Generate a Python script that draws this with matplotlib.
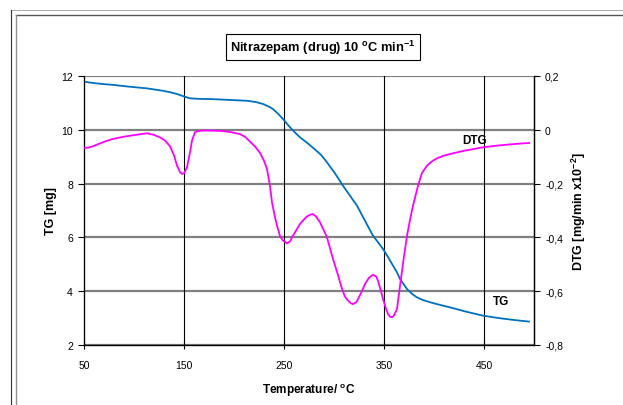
import matplotlib
matplotlib.use("Agg")
import matplotlib.pyplot as plt
from matplotlib.lines import Line2D

plt.rcParams['font.family'] = ['Liberation Sans', 'DejaVu Sans']
plt.rcParams['mathtext.fontset'] = 'custom'
plt.rcParams['mathtext.rm'] = 'Liberation Sans'
plt.rcParams['mathtext.bf'] = 'Liberation Sans:bold'
plt.rcParams['mathtext.default'] = 'bf'

# TG curve: temperature (°C) vs mass (mg)
tg_temp = [50, 59, 69, 79, 96, 113, 129, 137, 143, 150, 156, 165, 179, 195, 213,
           222, 229, 235, 239, 244, 249, 254, 259, 266, 273, 280, 287, 293, 301,
           309, 316, 323, 331, 339, 344, 349, 354, 359, 363, 366, 370, 373, 378,
           383, 389, 396, 405, 416, 432, 449, 465, 480, 495]
tg_mass = [11.79, 11.74, 11.70, 11.67, 11.60, 11.54, 11.45, 11.39, 11.33, 11.24,
           11.17, 11.15, 11.14, 11.11, 11.08, 11.03, 10.96, 10.86, 10.77, 10.60,
           10.40, 10.18, 9.97, 9.72, 9.52, 9.30, 9.07, 8.79, 8.38, 7.92, 7.55,
           7.18, 6.62, 6.06, 5.82, 5.57, 5.27, 4.95, 4.70, 4.45, 4.24, 4.08,
           3.90, 3.77, 3.67, 3.59, 3.50, 3.40, 3.24, 3.09, 3.00, 2.93, 2.87]

# DTG curve: temperature (°C) vs rate (mg/min x10^-2)
dtg_temp = [50, 55, 59, 65, 72, 79, 88, 96, 105, 113, 120, 126, 131, 136, 140,
            143, 146, 148, 150, 153, 156, 158, 161, 165, 169, 178, 186, 196,
            206, 211, 216, 221, 226, 230, 233, 236, 238, 241, 243, 246, 249,
            253, 256, 258, 262, 266, 270, 273, 276, 279, 282, 286, 290, 293,
            296, 299, 304, 308, 311, 314, 317, 319, 322, 324, 328, 331, 335,
            339, 342, 344, 347, 349, 352, 354, 356, 358, 360, 363, 366, 370,
            373, 376, 379, 384, 388, 393, 398, 403, 409, 416, 430, 449, 465,
            480, 495]
dtg_rate = [-0.067, -0.066, -0.061, -0.052, -0.042, -0.034, -0.027, -0.022,
            -0.017, -0.013, -0.019, -0.028, -0.040, -0.061, -0.095, -0.133,
            -0.157, -0.164, -0.162, -0.139, -0.084, -0.040, -0.009, -0.004,
            -0.003, -0.003, -0.004, -0.008, -0.016, -0.026, -0.044, -0.062,
            -0.086, -0.115, -0.146, -0.210, -0.270, -0.325, -0.356, -0.395,
            -0.412, -0.422, -0.415, -0.400, -0.375, -0.350, -0.333, -0.322,
            -0.316, -0.313, -0.322, -0.344, -0.375, -0.400, -0.440, -0.480,
            -0.540, -0.592, -0.620, -0.635, -0.645, -0.648, -0.642, -0.629,
            -0.600, -0.573, -0.550, -0.539, -0.545, -0.561, -0.600, -0.629,
            -0.665, -0.685, -0.695, -0.697, -0.690, -0.666, -0.580, -0.470,
            -0.394, -0.335, -0.282, -0.208, -0.160, -0.133, -0.117, -0.106,
            -0.097, -0.090, -0.078, -0.065, -0.058, -0.053, -0.049]

x_ticks = [50, 150, 250, 350, 450]
tg_ticks = [2, 4, 6, 8, 10, 12]
dtg_ticks = [-0.8, -0.6, -0.4, -0.2, 0.0, 0.2]
dtg_labels = ["-0,8", "-0,6", "-0,4", "-0,2", "0", "0,2"]

fig = plt.figure(figsize=(6.23, 4.06), dpi=100)
ax = fig.add_axes([84 / 623, 1 - 346 / 406, 450 / 623, 269 / 406])

# horizontal grey grid and vertical black grid
for v in tg_ticks:
    ax.axhline(v, color='#808080', lw=1.6, zorder=1)
for v in x_ticks[1:]:
    ax.axvline(v, color='black', lw=0.8, zorder=1)

ax.plot(tg_temp, tg_mass, color='#0070C0', lw=1.3, zorder=3)
ax.set_xlim(50, 500)
ax.set_ylim(2, 12)
ax.set_xticks(x_ticks)
ax.set_yticks(tg_ticks)
ax.tick_params(axis='both', labelsize=7.5, length=4, width=0.8, color='black')
ax.tick_params(axis='x', direction='inout', length=6, pad=8)
ax.tick_params(axis='y', direction='out', pad=4)
ax.spines['top'].set_visible(False)
for s in ['left', 'bottom', 'right']:
    ax.spines[s].set_color('black')
    ax.spines[s].set_linewidth(0.9)
ax.set_ylabel("TG [mg]", fontsize=9, fontweight='bold', labelpad=3)
ax.set_xlabel(r"Temperature/ $^{o}$C", fontsize=8.5, fontweight='bold', labelpad=8)

ax2 = ax.twinx()
ax2.plot(dtg_temp, dtg_rate, color='#FF00FF', lw=1.3, zorder=3)
ax2.set_ylim(-0.8, 0.2)
ax2.set_yticks(dtg_ticks)
ax2.set_yticklabels(dtg_labels)
ax2.tick_params(axis='y', labelsize=7.5, length=4, width=0.8, direction='out', pad=4)
ax2.spines['top'].set_visible(False)
ax2.spines['right'].set_color('black')
ax2.spines['right'].set_linewidth(0.9)
ax2.set_ylabel(r"DTG [mg/min x10$^{-2}$]", fontsize=9, fontweight='bold', labelpad=5)

ax.text(441, 9.62, "DTG", fontsize=8.5, fontweight='bold', ha='center', va='center', zorder=5)
ax.text(467, 3.64, "TG", fontsize=8.5, fontweight='bold', ha='center', va='center', zorder=5)

fig.text(323 / 623, 1 - 48 / 406, r"Nitrazepam (drug) 10 $^{o}$C min$^{-1}$",
         fontsize=9.3, fontweight='bold', ha='center', va='center',
         bbox=dict(boxstyle='square,pad=0.3', fc='white', ec='black', lw=0.8))

# outer chart-area frame lines
fig.add_artist(Line2D([11 / 623, 1], [1 - 11 / 406] * 2, color='#b0b0b0', lw=0.8))
fig.add_artist(Line2D([16 / 623, 1], [1 - 16 / 406] * 2, color='#555555', lw=1.0))
fig.add_artist(Line2D([11 / 623] * 2, [0, 1 - 11 / 406], color='#333333', lw=0.8))
fig.add_artist(Line2D([16 / 623] * 2, [0, 1 - 16 / 406], color='#909090', lw=1.0))

fig.savefig("out.png", dpi=100)
